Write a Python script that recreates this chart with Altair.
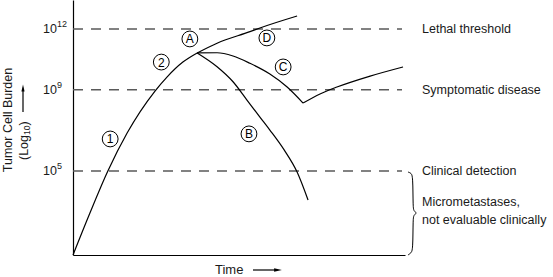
import altair as alt
import pandas as pd

FONT = "Liberation Sans"

# ---- curves: time (arbitrary units) vs log10 tumour cell burden ----
main_t = [0, 5.1, 10.5, 16.3, 24.7, 28.3, 33.1, 37.4]
main_L = [0.86, 2.93, 5.0, 6.87, 8.94, 9.63, 10.37, 10.82]
d_t = [37.4, 43.4, 53.3, 56.3, 67.5]
d_L = [10.82, 11.30, 11.87, 12.05, 12.64]
c_t = [37.4, 43.4, 48.2, 53.3, 59.3, 64.5, 69.3]
c_L = [10.82, 10.83, 10.67, 10.31, 9.78, 9.14, 8.35]
r_t = [69.3, 74.4, 79.5, 89.5, 99.4]
r_L = [8.35, 8.80, 9.14, 9.68, 10.13]
b_t = [37.4, 43.4, 48.2, 52.4, 56.3, 59.3, 63.6, 67.5, 70.8]
b_L = [10.82, 10.14, 9.40, 8.50, 7.66, 7.02, 6.04, 4.95, 3.57]

# ---- thresholds ----
levels = [12, 9, 5]
exponents = ["12", "9", "5"]
level_names = ["Lethal threshold", "Symptomatic disease", "Clinical detection"]

# ---- circled labels ----
lab_text = ["1", "2", "A", "D", "C", "B"]
lab_t = [11.2, 26.6, 35.2, 58.4, 63.3, 53.0]
lab_L = [6.58, 10.37, 11.51, 11.56, 10.13, 6.83]

# ---- brace beside micrometastases ----
brace_t = [100.9, 101.8, 102.4, 102.4, 102.7, 103.6, 102.7, 102.4, 102.4, 101.8, 100.9]
brace_L = [4.95, 4.90, 4.75, 3.18, 3.03, 2.93, 2.83, 2.68, 1.11, 0.96, 0.86]

W, H = 332, 255

rows = []
for name, ts, ls in [("main", main_t, main_L), ("D", d_t, d_L), ("C", c_t, c_L),
                     ("R", r_t, r_L), ("B", b_t, b_L)]:
    for t, l in zip(ts, ls):
        rows.append({"series": name, "t": t, "L": l})
curves = pd.DataFrame(rows)

xs = alt.Scale(domain=[0, 100], nice=False, zero=False)
ys = alt.Scale(domain=[0.86, 13.43], nice=False, zero=False)

X = alt.X("t:Q", scale=xs, axis=alt.Axis(labels=False, ticks=False, grid=False, title=None,
                                         domainColor="black", domainWidth=1.2))
Y = alt.Y("L:Q", scale=ys, axis=alt.Axis(labels=False, ticks=False, grid=False, title=None,
                                         domainColor="black", domainWidth=1.2))

curve_layer = alt.Chart(curves).mark_line(color="black", strokeWidth=1.2, interpolate="monotone").encode(
    x=X, y=Y, detail="series:N")

thr = pd.DataFrame({"L": levels, "exp": exponents, "name": level_names})
dashes = alt.Chart(thr).mark_rule(color="#5a5a5a", strokeWidth=1.5, strokeDash=[10, 8]).encode(
    y=alt.Y("L:Q", scale=ys), x=alt.value(0), x2=alt.value(W - 3))
ten = alt.Chart(thr).mark_text(font=FONT, fontSize=12.5, align="right", baseline="middle",
                               color="#1a1a1a").encode(
    y=alt.Y("L:Q", scale=ys), x=alt.value(-16), text=alt.value("10"))
expo = alt.Chart(thr).mark_text(font=FONT, fontSize=9, align="left", baseline="middle",
                                dy=-5, color="#1a1a1a").encode(
    y=alt.Y("L:Q", scale=ys), x=alt.value(-16), text="exp:N")
names = alt.Chart(thr).mark_text(font=FONT, fontSize=12.5, align="left", baseline="middle",
                                 color="#1a1a1a").encode(
    y=alt.Y("L:Q", scale=ys), x=alt.value(W + 17), text="name:N")

micro = alt.Chart(pd.DataFrame({"txt": ["Micrometastases,", "not evaluable clinically"],
                                "dyp": [202, 220]})).mark_text(
    font=FONT, fontSize=12.5, align="left", baseline="middle", color="#1a1a1a").encode(
    x=alt.value(W + 17), y=alt.Y("dyp:Q", scale=None), text="txt:N")

brace = alt.Chart(pd.DataFrame({"t": brace_t, "L": brace_L, "o": list(range(len(brace_t)))})).mark_line(
    color="black", strokeWidth=1, interpolate="basis").encode(
    x=alt.X("t:Q", scale=xs), y=alt.Y("L:Q", scale=ys), order="o:Q")

labs = pd.DataFrame({"t": lab_t, "L": lab_L, "txt": lab_text})
circles = alt.Chart(labs).mark_point(shape="circle", size=250, color="black", filled=False,
                                     strokeWidth=1, opacity=1).encode(
    x=alt.X("t:Q", scale=xs), y=alt.Y("L:Q", scale=ys))
circ_txt = alt.Chart(labs).mark_text(font=FONT, fontSize=12, color="black", baseline="middle",
                                     dy=0.5).encode(
    x=alt.X("t:Q", scale=xs), y=alt.Y("L:Q", scale=ys), text="txt:N")

# ---- axis titles ----
ann = pd.DataFrame({"k": [0]})
time_txt = alt.Chart(ann).mark_text(font=FONT, fontSize=13, align="left", baseline="middle",
                                    color="#1a1a1a").encode(
    x=alt.value(142), y=alt.value(270), text=alt.value("Time"))
time_arrow = alt.Chart(ann).mark_rule(color="black", strokeWidth=1.2).encode(
    x=alt.value(180), x2=alt.value(203), y=alt.value(270))
time_head = alt.Chart(ann).mark_point(shape="M-1,-0.45L1,0L-1,0.45Z", filled=True, color="black",
                                      size=60, opacity=1).encode(
    x=alt.value(205), y=alt.value(270))

ytitle = alt.Chart(ann).mark_text(font=FONT, fontSize=12.5, angle=270, align="center",
                                  baseline="middle", color="#1a1a1a").encode(
    x=alt.value(-65), y=alt.value(120), text=alt.value("Tumor Cell Burden"))
log1 = alt.Chart(ann).mark_text(font=FONT, fontSize=12.5, angle=270, align="left",
                                baseline="middle", color="#1a1a1a").encode(
    x=alt.value(-49), y=alt.value(160), text=alt.value("(Log"))
log2 = alt.Chart(ann).mark_text(font=FONT, fontSize=8.5, angle=270, align="left",
                                baseline="middle", color="#1a1a1a").encode(
    x=alt.value(-46), y=alt.value(135), text=alt.value("10"))
log3 = alt.Chart(ann).mark_text(font=FONT, fontSize=12.5, angle=270, align="left",
                                baseline="middle", color="#1a1a1a").encode(
    x=alt.value(-49), y=alt.value(125.5), text=alt.value(")"))
y_arrow = alt.Chart(ann).mark_rule(color="black", strokeWidth=1.2).encode(
    x=alt.value(-50), y=alt.value(112), y2=alt.value(90))
y_head = alt.Chart(ann).mark_point(shape="M-0.45,1L0,-1L0.45,1Z", filled=True, color="black",
                                   size=50, opacity=1).encode(
    x=alt.value(-50), y=alt.value(88))

chart = alt.layer(
    dashes, curve_layer, brace, circles, circ_txt, ten, expo, names, micro,
    time_txt, time_arrow, time_head, ytitle, log1, log2, log3, y_arrow, y_head
).properties(
    width=W, height=H,
    autosize=alt.AutoSizeParams(type="none"),
    padding={"left": 73, "top": 0, "right": 148, "bottom": 22},
    background="white",
).configure_view(stroke=None)

chart.save("out.html", embed_options={"renderer": "svg", "actions": False})
